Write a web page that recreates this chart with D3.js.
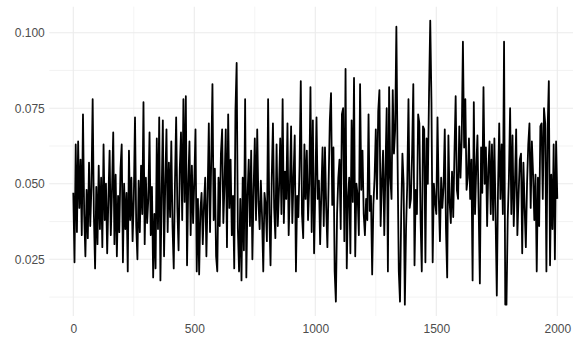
<!DOCTYPE html>
<html>
<head>
<meta charset="utf-8">
<script src="https://cdn.jsdelivr.net/npm/d3@7"></script>
<style>
  html, body { margin: 0; padding: 0; background: #ffffff; }
  svg { display: block; }
</style>
</head>
<body>
<svg id="chart" width="573" height="340"></svg>
<script>
// Sampled every 5th observation (index 0, 5, 10, ... 2000)
const sampleStep = 5;
const values = [
  // 0-95
  .047,.024,.063,.034,.064,.042,.058,.033,.073,.040,.026,.048,.032,.057,.036,.049,.078,.040,.022,.049,
  // 100-195
  .030,.056,.035,.052,.029,.063,.038,.050,.027,.045,.061,.033,.048,.067,.030,.053,.026,.046,.034,.055,
  // 200-295
  .063,.024,.050,.035,.047,.021,.061,.038,.052,.031,.045,.072,.036,.025,.051,.034,.056,.040,.077,.030,
  // 300-395
  .052,.037,.045,.067,.033,.049,.019,.040,.022,.065,.035,.072,.018,.046,.071,.026,.050,.068,.034,.057,
  // 400-495
  .039,.064,.036,.022,.050,.072,.042,.028,.055,.067,.038,.078,.044,.079,.023,.050,.064,.033,.056,.037,
  // 500-595
  .051,.068,.021,.045,.020,.041,.047,.030,.043,.052,.026,.046,.070,.034,.058,.083,.038,.055,.026,.021,
  // 600-695
  .052,.036,.060,.068,.037,.050,.068,.029,.073,.042,.058,.033,.046,.022,.074,.090,.035,.021,.045,.018,
  // 700-795
  .052,.028,.078,.019,.046,.058,.036,.061,.025,.048,.065,.038,.068,.044,.035,.051,.039,.021,.047,.043,
  // 800-895
  .031,.078,.040,.023,.052,.070,.042,.032,.063,.036,.048,.065,.040,.078,.037,.054,.045,.070,.033,.049,
  // 900-995
  .069,.037,.052,.066,.021,.046,.039,.056,.084,.040,.032,.063,.045,.061,.038,.050,.082,.034,.071,.027,
  // 1000-1095
  .048,.072,.045,.051,.030,.047,.062,.036,.062,.042,.029,.050,.071,.080,.043,.062,.021,.011,.040,.052,
  // 1100-1195
  .058,.035,.073,.075,.031,.088,.022,.045,.052,.027,.071,.044,.085,.026,.050,.046,.033,.083,.048,.061,
  // 1200-1295
  .040,.033,.045,.038,.073,.041,.046,.020,.043,.052,.068,.045,.074,.081,.036,.050,.061,.033,.055,.075,
  // 1300-1395
  .021,.082,.052,.045,.081,.060,.068,.102,.058,.021,.011,.040,.060,.050,.010,.035,.050,.078,.042,.045,
  // 1400-1495
  .060,.083,.023,.048,.040,.073,.070,.038,.021,.069,.068,.024,.065,.050,.080,.104,.077,.024,.050,.044,
  // 1500-1595
  .040,.072,.046,.031,.052,.042,.049,.068,.035,.019,.066,.044,.037,.054,.039,.060,.079,.048,.045,.069,
  // 1600-1695
  .052,.065,.097,.062,.078,.048,.052,.065,.045,.058,.018,.077,.040,.055,.066,.042,.017,.062,.047,.082,
  // 1700-1795
  .050,.062,.036,.055,.064,.040,.063,.038,.065,.039,.013,.048,.070,.045,.063,.040,.097,.010,.010,.038,
  // 1800-1895
  .052,.075,.040,.066,.036,.050,.068,.033,.046,.058,.060,.027,.057,.042,.029,.050,.063,.070,.042,.064,
  // 1900-1995
  .053,.038,.053,.021,.052,.036,.069,.070,.045,.075,.070,.021,.068,.084,.023,.053,.035,.063,.025,.064,
  // 2000
  .045
];
const xTickValues = [0, 500, 1000, 1500, 2000];
const xMinorValues = [250, 750, 1250, 1750];
const yTickValues = [0.025, 0.050, 0.075, 0.100];
const yMinorValues = [0.0125, 0.0375, 0.0625, 0.0875];

const data = values.map((v, i) => ({ x: i * sampleStep, y: v }));

const svg = d3.select("#chart");
const panel = { left: 49.3, right: 573, top: 6.7, bottom: 316 };

const x = d3.scaleLinear().domain([0, 2000]).range([73.3, 557.3]);
const y = d3.scaleLinear().domain([0.025, 0.100]).range([259.3, 32.7]);

const grid = svg.append("g");
// minor gridlines
grid.selectAll("line.ymin").data(yMinorValues).join("line")
  .attr("x1", panel.left).attr("x2", panel.right)
  .attr("y1", d => y(d)).attr("y2", d => y(d))
  .attr("stroke", "#EBEBEB").attr("stroke-width", 0.6);
grid.selectAll("line.xmin").data(xMinorValues).join("line")
  .attr("y1", panel.top).attr("y2", panel.bottom)
  .attr("x1", d => x(d)).attr("x2", d => x(d))
  .attr("stroke", "#EBEBEB").attr("stroke-width", 0.6);
// major gridlines
grid.selectAll("line.ymaj").data(yTickValues).join("line")
  .attr("x1", panel.left).attr("x2", panel.right)
  .attr("y1", d => y(d)).attr("y2", d => y(d))
  .attr("stroke", "#EBEBEB").attr("stroke-width", 1.1);
grid.selectAll("line.xmaj").data(xTickValues).join("line")
  .attr("y1", panel.top).attr("y2", panel.bottom)
  .attr("x1", d => x(d)).attr("x2", d => x(d))
  .attr("stroke", "#EBEBEB").attr("stroke-width", 1.1);

// series line
const line = d3.line().x(d => x(d.x)).y(d => y(d.y));
svg.append("path").datum(data)
  .attr("d", line)
  .attr("fill", "none")
  .attr("stroke", "#000000")
  .attr("stroke-width", 1.8)
  .attr("stroke-linejoin", "round");

// axes (text only, theme_minimal style)
const fmt = d3.format(".3f");
const yAxis = svg.append("g")
  .attr("transform", `translate(${panel.left - 2.5},0)`)
  .call(d3.axisLeft(y).tickValues(yTickValues).tickFormat(fmt).tickSize(0).tickPadding(2));
const xAxis = svg.append("g")
  .attr("transform", `translate(0,${panel.bottom + 2})`)
  .call(d3.axisBottom(x).tickValues(xTickValues).tickFormat(d3.format("d")).tickSize(0).tickPadding(6));
[yAxis, xAxis].forEach(g => {
  g.select(".domain").remove();
  g.selectAll("text")
    .attr("fill", "#4D4D4D")
    .style("font-family", "'Liberation Sans', Arial, sans-serif")
    .style("font-size", "12px");
});
</script>
</body>
</html>
